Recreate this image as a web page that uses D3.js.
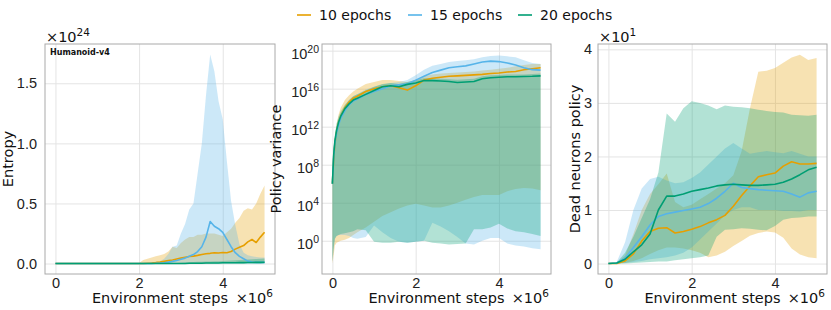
<!DOCTYPE html>
<meta charset="utf-8">
<html>
<head>
<script src="https://d3js.org/d3.v7.min.js"></script>
<style>
  body { margin: 0; background: #fff; }
  svg { font-family: "DejaVu Sans", sans-serif; }
  .grid line { stroke: #e4e4e4; stroke-width: 1; }
  .grid path { display: none; }
  .axis path { display: none; }
  .axis text { fill: #222; font-size: 14.5px; }
</style>
</head>
<body>
<svg width="831" height="310"></svg>
<script>

// legend entries
var seriesNames = ["10 epochs", "15 epochs", "20 epochs"];
var seriesColors = ["#E69F00", "#56B4E9", "#009E73"];

// ---- panel 1 : entropy (x 1e24), steps in 1e6 ----
var entropySteps = [0, 0.5, 1.0, 1.5, 2.0, 2.1, 2.2, 2.3, 2.4, 2.5, 2.6, 2.7, 2.8, 2.9, 3.0, 3.1, 3.2, 3.3, 3.4, 3.5,
                    3.6, 3.7, 3.8, 3.9, 4.0, 4.1, 4.2, 4.3, 4.4, 4.5, 4.6, 4.7, 4.8, 4.9, 5.0];
var entropy10   = [0, 0, 0, 0, 0, 0.001, 0.003, 0.005, 0.008, 0.012, 0.018, 0.024, 0.03, 0.038, 0.045, 0.052, 0.058, 0.062, 0.068, 0.075,
                   0.082, 0.085, 0.09, 0.088, 0.092, 0.09, 0.1, 0.12, 0.135, 0.15, 0.18, 0.2, 0.175, 0.22, 0.26];
var entropy10Lo = [0, 0, 0, 0, 0, 0, 0, 0, 0, 0, 0, 0, 0, 0, 0.002, 0.002, 0.002, 0.003, 0.003, 0.003,
                   0.003, 0.003, 0.004, 0.004, 0.004, 0.004, 0.004, 0.005, 0.005, 0.005, 0.005, 0.006, 0.006, 0.006, 0.006];
var entropy10Hi = [0, 0, 0, 0, 0.005, 0.03, 0.04, 0.05, 0.06, 0.07, 0.08, 0.1, 0.14, 0.13, 0.17, 0.2, 0.22, 0.22, 0.24, 0.24,
                   0.25, 0.25, 0.25, 0.24, 0.23, 0.26, 0.29, 0.34, 0.38, 0.44, 0.46, 0.45, 0.5, 0.58, 0.65];
var entropy15   = [0, 0, 0, 0, 0, 0, 0, 0.001, 0.002, 0.004, 0.007, 0.012, 0.018, 0.025, 0.035, 0.045, 0.06, 0.075, 0.1, 0.14,
                   0.22, 0.35, 0.31, 0.29, 0.26, 0.2, 0.14, 0.09, 0.06, 0.04, 0.02, 0.012, 0.01, 0.01, 0.01];
var entropy15Lo = [0, 0, 0, 0, 0, 0, 0, 0, 0, 0, 0, 0, 0, 0, 0, 0, 0, 0, 0, 0,
                   0, 0, 0, 0, 0, 0, 0, 0, 0, 0, 0, 0, 0, 0, 0];
var entropy15Hi = [0, 0, 0, 0, 0, 0, 0.005, 0.01, 0.015, 0.02, 0.04, 0.08, 0.14, 0.15, 0.25, 0.33, 0.45, 0.5, 0.75, 1.0,
                   1.4, 1.74, 1.6, 1.35, 1.2, 0.85, 0.52, 0.32, 0.16, 0.09, 0.07, 0.06, 0.055, 0.05, 0.05];
var entropy20   = [0, 0, 0, 0, 0, 0, 0, 0, 0, 0, 0, 0, 0, 0, 0.001, 0.001, 0.002, 0.002, 0.003, 0.003,
                   0.004, 0.004, 0.005, 0.005, 0.006, 0.006, 0.007, 0.007, 0.008, 0.008, 0.009, 0.009, 0.01, 0.01, 0.011];
var entropy20Lo = [0, 0, 0, 0, 0, 0, 0, 0, 0, 0, 0, 0, 0, 0, 0, 0, 0, 0, 0, 0,
                   0, 0, 0, 0, 0, 0, 0, 0, 0, 0, 0, 0, 0, 0, 0];
var entropy20Hi = [0, 0, 0, 0, 0, 0, 0, 0, 0, 0, 0.002, 0.003, 0.004, 0.005, 0.006, 0.008, 0.01, 0.012, 0.014, 0.015,
                   0.017, 0.018, 0.019, 0.02, 0.021, 0.023, 0.025, 0.027, 0.03, 0.032, 0.034, 0.036, 0.038, 0.04, 0.042];

// ---- panel 2 : policy variance, stored as log10 of the value ----
var varianceSteps = [0, 0.03, 0.06, 0.1, 0.15, 0.2, 0.3, 0.4, 0.5, 0.6, 0.8, 1.0, 1.2, 1.4, 1.6, 1.8,
                     2.0, 2.2, 2.4, 2.6, 2.8, 3.0, 3.2, 3.4, 3.6, 3.8, 4.0, 4.2, 4.4, 4.6, 4.8, 5.0];
var variance10Log   = [6.0, 8.6, 10.2, 11.4, 12.4, 13.1, 14.0, 14.6, 15.0, 15.2, 15.7, 16.0, 16.2, 16.3, 16.1, 15.85,
                       16.3, 16.9, 17.1, 17.2, 17.3, 17.35, 17.4, 17.45, 17.5, 17.6, 17.65, 17.75, 17.8, 18.0, 18.1, 18.2];
var variance10LoLog = [-2.4, -1.5, -0.5, -0.2, -0.1, 0.0, 0.1, 0.3, 0.6, 0.9, 1.4, 2.0, 2.6, 3.0, 3.4, 3.7,
                       3.9, 3.7, 3.5, 3.5, 3.7, 4.0, 4.3, 4.6, 4.8, 4.8, 4.8, 5.2, 5.45, 5.55, 5.5, 5.3];
var variance10HiLog = [6.5, 9.5, 11.0, 12.3, 13.3, 14.0, 14.8, 15.3, 15.7, 16.0, 16.5, 16.7, 16.9, 16.9, 16.8, 16.7,
                       16.9, 17.3, 17.5, 17.6, 17.65, 17.7, 17.75, 17.8, 17.9, 18.0, 18.1, 18.2, 18.35, 18.5, 18.6, 18.6];
var variance15Log   = [6.0, 8.8, 10.3, 11.3, 12.2, 12.9, 13.7, 14.3, 14.7, 14.9, 15.4, 15.7, 16.0, 16.3, 16.4, 16.5,
                       16.9, 17.3, 17.7, 17.95, 18.2, 18.3, 18.4, 18.6, 18.8, 18.9, 18.85, 18.7, 18.5, 18.2, 18.0, 17.95];
var variance15LoLog = [-2.2, -0.8, 0.2, 0.5, 0.6, 0.6, 0.6, 0.5, 0.3, 0.2, 0.4, 1.6, 0.9, 0.3, -0.1, -0.2,
                       -0.1, 0.0, 1.9, 1.5, 1.0, 0.4, -0.3, -0.4, 0.0, 0.3, 0.3, -0.3, -0.5, -0.6, -0.8, -0.9];
var variance15HiLog = [6.5, 9.5, 10.9, 11.9, 12.8, 13.4, 14.2, 14.8, 15.2, 15.4, 15.9, 16.2, 16.45, 16.6, 16.7, 16.9,
                       17.4, 18.0, 18.4, 18.6, 18.8, 18.9, 19.0, 19.1, 19.3, 19.45, 19.5, 19.4, 19.3, 19.0, 18.7, 18.6];
var variance20Log   = [6.0, 9.0, 10.5, 11.6, 12.5, 13.1, 13.9, 14.4, 14.8, 15.0, 15.4, 15.8, 16.2, 16.3, 16.2, 16.45,
                       16.6, 16.85, 16.85, 16.8, 16.75, 16.65, 16.7, 16.75, 17.05, 17.15, 17.2, 17.25, 17.25, 17.28, 17.3, 17.35];
var variance20LoLog = [-2.2, -0.8, 0.2, 0.5, 0.6, 0.7, 0.8, 0.9, 1.0, 1.2, 1.1, -0.1, -0.2, -0.2, -0.1, -0.2,
                       -0.1, 0.0, -0.2, -0.3, -0.4, -0.35, -0.3, 1.2, 1.2, 1.4, 1.8, 1.3, 1.0, 0.9, 0.7, 0.5];
var variance20HiLog = [6.5, 9.8, 11.2, 12.3, 13.1, 13.6, 14.3, 14.8, 15.2, 15.4, 15.8, 16.2, 16.5, 16.6, 16.5, 16.7,
                       16.9, 17.1, 17.1, 17.05, 17.0, 16.95, 17.0, 17.05, 17.3, 17.4, 17.45, 17.5, 17.5, 17.5, 17.55, 17.6];

// ---- panel 3 : dead neurons (x 1e1) ----
var deadSteps = [0, 0.2, 0.4, 0.6, 0.8, 1.0, 1.2, 1.4, 1.6, 1.8, 2.0, 2.2, 2.4, 2.6, 2.8, 3.0, 3.2, 3.4, 3.6, 3.8,
                 4.0, 4.2, 4.4, 4.6, 4.8, 5.0];
var dead10   = [0, 0, 0.05, 0.18, 0.42, 0.6, 0.66, 0.67, 0.57, 0.6, 0.64, 0.69, 0.76, 0.82, 0.9, 1.07, 1.27, 1.45, 1.62, 1.66,
                1.69, 1.82, 1.9, 1.86, 1.86, 1.87];
var dead10Lo = [0, 0, 0.01, 0.05, 0.1, 0.18, 0.25, 0.3, 0.3, 0.28, 0.25, 0.2, 0.12, 0.15, 0.22, 0.33, 0.42, 0.52, 0.57, 0.6,
                0.58, 0.48, 0.28, 0.17, 0.12, 0.1];
var dead10Hi = [0, 0.01, 0.15, 0.55, 1.0, 1.3, 1.48, 1.68, 1.15, 1.05, 1.1, 1.2, 1.3, 1.4, 1.5, 1.65, 2.1, 2.9, 3.58, 3.6,
                3.65, 3.75, 3.85, 3.9, 3.8, 3.84];
var dead15   = [0, 0.01, 0.1, 0.3, 0.5, 0.72, 0.88, 0.93, 0.96, 0.99, 1.02, 1.05, 1.12, 1.22, 1.35, 1.5, 1.42, 1.4, 1.38, 1.37,
                1.36, 1.35, 1.3, 1.24, 1.32, 1.35];
var dead15Lo = [0, 0, 0.01, 0.03, 0.05, 0.08, 0.1, 0.12, 0.15, 0.2, 0.3, 0.45, 0.6, 0.75, 0.9, 1.0, 1.05, 1.05, 1.0, 1.0,
                1.0, 0.98, 0.98, 0.97, 1.0, 1.0];
var dead15Hi = [0, 0.03, 0.4, 1.0, 1.4, 1.58, 1.62, 1.55, 1.5, 1.52, 1.6, 1.7, 1.85, 2.0, 2.15, 2.25, 2.15, 2.05, 2.08, 2.1,
                2.08, 2.06, 2.1, 2.05, 2.0, 2.0];
var dead20   = [0, 0.01, 0.08, 0.22, 0.35, 0.55, 1.0, 1.26, 1.26, 1.3, 1.35, 1.38, 1.41, 1.45, 1.47, 1.48, 1.47, 1.46, 1.46, 1.47,
                1.48, 1.52, 1.58, 1.66, 1.75, 1.8];
var dead20Lo = [0, 0, 0, 0.01, 0.02, 0.03, 0.04, 0.04, 0.06, 0.08, 0.1, 0.12, 0.15, 0.5, 0.63, 0.64, 0.66, 0.65, 0.63, 0.62,
                0.7, 0.82, 0.85, 0.86, 0.88, 0.88];
var dead20Hi = [0, 0.02, 0.2, 0.5, 0.85, 1.2, 1.7, 2.8, 2.65, 2.9, 3.03, 3.0, 2.95, 2.88, 2.95, 2.93, 2.92, 2.9, 2.87, 2.85,
                2.83, 2.82, 2.78, 2.77, 2.76, 2.78];

var xTicks = [0, 2, 4];

var svg = d3.select("svg");
var plotTop = 44, plotBottom = 274;

function pow10(arr) { return arr.map(function(v) { return Math.pow(10, v); }); }

var panels = [
  { left: 45, right: 275, steps: entropySteps, ylabel: "Entropy", labelX: 13, pad: 8,
    yDomain: [-0.087, 1.827], yTicks: [0, 0.5, 1.0, 1.5], fmt: d3.format(".1f"), offset: "24", title: "Humanoid-v4",
    series: [[entropy10, entropy10Lo, entropy10Hi], [entropy15, entropy15Lo, entropy15Hi], [entropy20, entropy20Lo, entropy20Hi]] },
  { left: 322, right: 551, steps: varianceSteps, ylabel: "Policy variance", labelX: 281, pad: 3, log: true,
    yDomain: [Math.pow(10, -3.5), Math.pow(10, 20.7)], yTicks: [1e0, 1e4, 1e8, 1e12, 1e16, 1e20],
    series: [[pow10(variance10Log), pow10(variance10LoLog), pow10(variance10HiLog)],
             [pow10(variance15Log), pow10(variance15LoLog), pow10(variance15HiLog)],
             [pow10(variance20Log), pow10(variance20LoLog), pow10(variance20HiLog)]] },
  { left: 598, right: 827, steps: deadSteps, ylabel: "Dead neurons policy", labelX: 580, pad: 6,
    yDomain: [-0.195, 4.1], yTicks: [0, 1, 2, 3, 4], fmt: d3.format("d"), offset: "1",
    series: [[dead10, dead10Lo, dead10Hi], [dead15, dead15Lo, dead15Hi], [dead20, dead20Lo, dead20Hi]] }
];

panels.forEach(function(p, pi) {
  var x = d3.scaleLinear().domain([-0.25, 5.25]).range([p.left, p.right]);
  var y = (p.log ? d3.scaleLog() : d3.scaleLinear()).domain(p.yDomain).range([plotBottom, plotTop]);
  var w = p.right - p.left, h = plotBottom - plotTop;

  svg.append("clipPath").attr("id", "clip" + pi)
    .append("rect").attr("x", p.left).attr("y", plotTop).attr("width", w).attr("height", h);

  // grid
  svg.append("g").attr("class", "grid")
    .attr("transform", "translate(0," + plotBottom + ")")
    .call(d3.axisBottom(x).tickValues(xTicks).tickSize(-h).tickFormat(""));
  svg.append("g").attr("class", "grid")
    .attr("transform", "translate(" + p.left + ",0)")
    .call(d3.axisLeft(y).tickValues(p.yTicks).tickSize(-w).tickFormat(""));

  var plot = svg.append("g").attr("clip-path", "url(#clip" + pi + ")");

  // bands first
  p.series.forEach(function(s, si) {
    var area = d3.area()
      .x(function(d, i) { return x(p.steps[i]); })
      .y0(function(d, i) { return y(s[1][i]); })
      .y1(function(d, i) { return y(s[2][i]); });
    plot.append("path").datum(s[0])
      .attr("d", area)
      .attr("fill", seriesColors[si])
      .attr("fill-opacity", 0.3);
  });
  // then mean lines
  p.series.forEach(function(s, si) {
    var line = d3.line()
      .x(function(d, i) { return x(p.steps[i]); })
      .y(function(d) { return y(d); });
    plot.append("path").datum(s[0])
      .attr("d", line)
      .attr("fill", "none")
      .attr("stroke", seriesColors[si])
      .attr("stroke-width", 1.6)
      .attr("stroke-linejoin", "round");
  });

  // frame
  svg.append("rect")
    .attr("x", p.left).attr("y", plotTop).attr("width", w).attr("height", h)
    .attr("fill", "none").attr("stroke", "#aaa").attr("stroke-width", 1);

  // x axis
  svg.append("g").attr("class", "axis")
    .attr("transform", "translate(0," + plotBottom + ")")
    .call(d3.axisBottom(x).tickValues(xTicks).tickSize(0).tickPadding(3.5).tickFormat(d3.format("d")));

  // y axis
  var ya = svg.append("g").attr("class", "axis")
    .attr("transform", "translate(" + p.left + ",0)")
    .call(d3.axisLeft(y).tickValues(p.yTicks).tickSize(0).tickPadding(p.pad)
      .tickFormat(p.log ? function() { return ""; } : p.fmt));
  if (p.log) {
    ya.selectAll(".tick text").each(function(d) {
      var t = d3.select(this).attr("dy", "0.55em");
      t.append("tspan").text("10");
      t.append("tspan").attr("dy", "-0.62em").attr("font-size", "10.5px").text(Math.round(Math.log10(d)));
    });
  }

  // axis labels
  svg.append("text")
    .attr("x", (p.left + p.right) / 2).attr("y", 303)
    .attr("text-anchor", "middle").attr("font-size", "14.5px").attr("fill", "#111")
    .text("Environment steps");
  var xo = svg.append("text")
    .attr("x", p.right - 2).attr("y", 303)
    .attr("text-anchor", "end").attr("font-size", "14.5px").attr("fill", "#111");
  xo.append("tspan").text("\u00d710");
  xo.append("tspan").attr("dy", -6).attr("font-size", "10.5px").text("6");

  svg.append("text")
    .attr("transform", "translate(" + p.labelX + "," + (plotTop + plotBottom) / 2 + ") rotate(-90)")
    .attr("text-anchor", "middle").attr("font-size", "14.5px").attr("fill", "#111")
    .text(p.ylabel);

  if (p.offset) {
    var yo = svg.append("text")
      .attr("x", p.left + 1).attr("y", 42)
      .attr("font-size", "14.5px").attr("fill", "#111");
    yo.append("tspan").text("\u00d710");
    yo.append("tspan").attr("dy", -6).attr("font-size", "10.5px").text(p.offset);
  }
  if (p.title) {
    svg.append("text")
      .attr("x", p.left + 5).attr("y", 55)
      .attr("font-size", "8px").attr("font-weight", "bold").attr("fill", "#111")
      .text(p.title);
  }
});

// legend
var legendX = [319, 430, 540];
seriesNames.forEach(function(name, i) {
  var g = svg.append("g").attr("transform", "translate(" + legendX[i] + ",0)");
  g.append("line")
    .attr("x1", -22).attr("x2", -8).attr("y1", 15).attr("y2", 15)
    .attr("stroke", seriesColors[i]).attr("stroke-width", 1.6);
  g.append("text")
    .attr("x", 0).attr("y", 20)
    .attr("font-size", "14px").attr("fill", "#111")
    .text(name);
});

</script>
</body>
</html>
